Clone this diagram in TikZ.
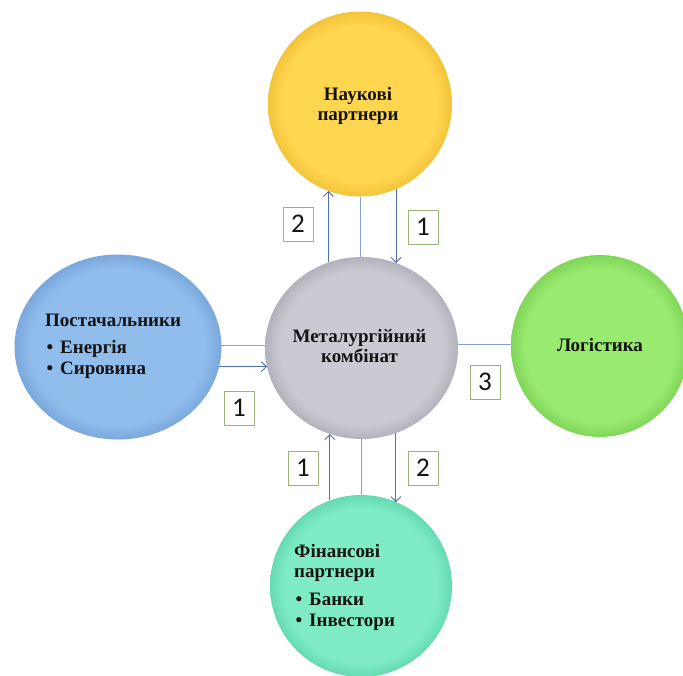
\documentclass[tikz,border=0pt]{standalone}
\usepackage{fontspec}
\setmainfont{Liberation Serif}
\newfontfamily\digitfont{Carlito}
\usetikzlibrary{shapes.geometric,arrows.meta}
\makeatletter
\pgfdeclareradialshading[tikz@radial@inner,tikz@radial@outer]{ballrim}{\pgfpointorigin}{%
 color(0bp)=(tikz@radial@inner);
 color(21bp)=(tikz@radial@inner);
 color(25bp)=(tikz@radial@outer);
 color(50bp)=(tikz@radial@outer)}
\makeatother
\definecolor{yin}{RGB}{255,214,80}
\definecolor{yout}{RGB}{242,196,58}
\definecolor{gin}{RGB}{202,202,210}
\definecolor{gout}{RGB}{178,178,188}
\definecolor{bin}{RGB}{145,189,236}
\definecolor{bout}{RGB}{122,168,220}
\definecolor{lin}{RGB}{152,234,112}
\definecolor{lout}{RGB}{128,214,88}
\definecolor{tin}{RGB}{127,236,198}
\definecolor{tout}{RGB}{102,218,176}
\definecolor{arrowblue}{RGB}{79,110,175}
\definecolor{lineblue}{RGB}{132,162,208}
\definecolor{boxgreen}{RGB}{155,180,120}
\definecolor{textdark}{RGB}{20,20,20}
\newcommand\mybullet{\makebox[15pt][l]{\hspace{1.5pt}•}}
\begin{document}
\begin{tikzpicture}[x=1pt,y=-1pt,
  ball/.style={ellipse, inner sep=0pt, outer sep=0pt},
  ballcol/.style 2 args={inner color=#1, outer color=#2, shading=ballrim},
  arr/.style={draw=arrowblue, line width=0.9pt, -{Straight Barb[length=5pt,width=10pt]}},
  link/.style={draw=lineblue, line width=0.9pt},
  numbox/.style={draw=boxgreen, fill=white, line width=0.8pt, minimum width=30pt, minimum height=34pt, inner sep=0pt, font=\digitfont\fontsize{27}{29}\selectfont, text=textdark},
  ctext/.style={font=\bfseries\fontsize{19}{20}\selectfont, text=textdark, inner sep=0pt}]
\useasboundingbox (0,0) rectangle (683,675);
\fill[white] (0,0) rectangle (683,675);
\clip (0,0) rectangle (683,675);

\node[ball, minimum width=184pt, minimum height=185pt, ballcol={yin}{yout}] (sci) at (360,104) {};
\node[ball, minimum width=193pt, minimum height=182pt, ballcol={gin}{gout}] (met) at (361.5,348) {};
\node[ball, minimum width=207pt, minimum height=185pt, ballcol={bin}{bout}] (sup) at (118,347) {};
\node[ball, minimum width=178pt, minimum height=182pt, ballcol={lin}{lout}] (log) at (600,346) {};
\node[ball, minimum width=182pt, minimum height=182pt, ballcol={tin}{tout}] (fin) at (361,586) {};

\draw[arr] (sci.250 |- met.110) -- (sci.250);
\draw[link] (sci.270) -- (sci.270 |- met.90);
\draw[arr] (sci.293) -- (sci.293 |- met.68);
\draw[arr] (fin.110) -- (fin.110 |- met.250);
\draw[link] (met.270) -- (met.270 |- fin.90);
\draw[arr] (met.292) -- (met.292 |- fin.67);
\draw[link] (sup.1) -- (sup.1 -| met.west);
\draw[arr] (sup.349) -- (sup.349 -| met.191);
\draw[link] (met.2) -- (met.2 -| log.west);

\node[numbox] (n1) at (298,224) {2};
\node[numbox] (n2) at (423,227) {1};
\node[numbox] (n3) at (239,408) {1};
\node[numbox] (n4) at (485,382) {3};
\node[numbox] (n5) at (303,468) {1};
\node[numbox] (n6) at (423,468) {2};

\node[ctext, anchor=base] (scia) at (358,100) {Наукові};
\node[ctext, anchor=base] (scib) at (358,120) {партнери};
\node[ctext, anchor=base] (meta) at (359.5,342) {Металургійний};
\node[ctext, anchor=base] (metb) at (359.5,362) {комбінат};
\node[ctext, anchor=base] (loga) at (600,351) {Логістика};
\node[ctext, anchor=base west] (supa) at (45,326) {Постачальники};
\node[ctext, anchor=base west] (supb) at (45,353) {\mybullet Енергія};
\node[ctext, anchor=base west] (supc) at (45,374.5) {\mybullet Сировина};
\node[ctext, anchor=base west] (fina) at (294,557) {Фінансові};
\node[ctext, anchor=base west] (finb) at (294,577) {партнери};
\node[ctext, anchor=base west] (finc) at (294,605.5) {\mybullet Банки};
\node[ctext, anchor=base west] (find) at (294,626) {\mybullet Інвестори};
\end{tikzpicture}
\end{document}
